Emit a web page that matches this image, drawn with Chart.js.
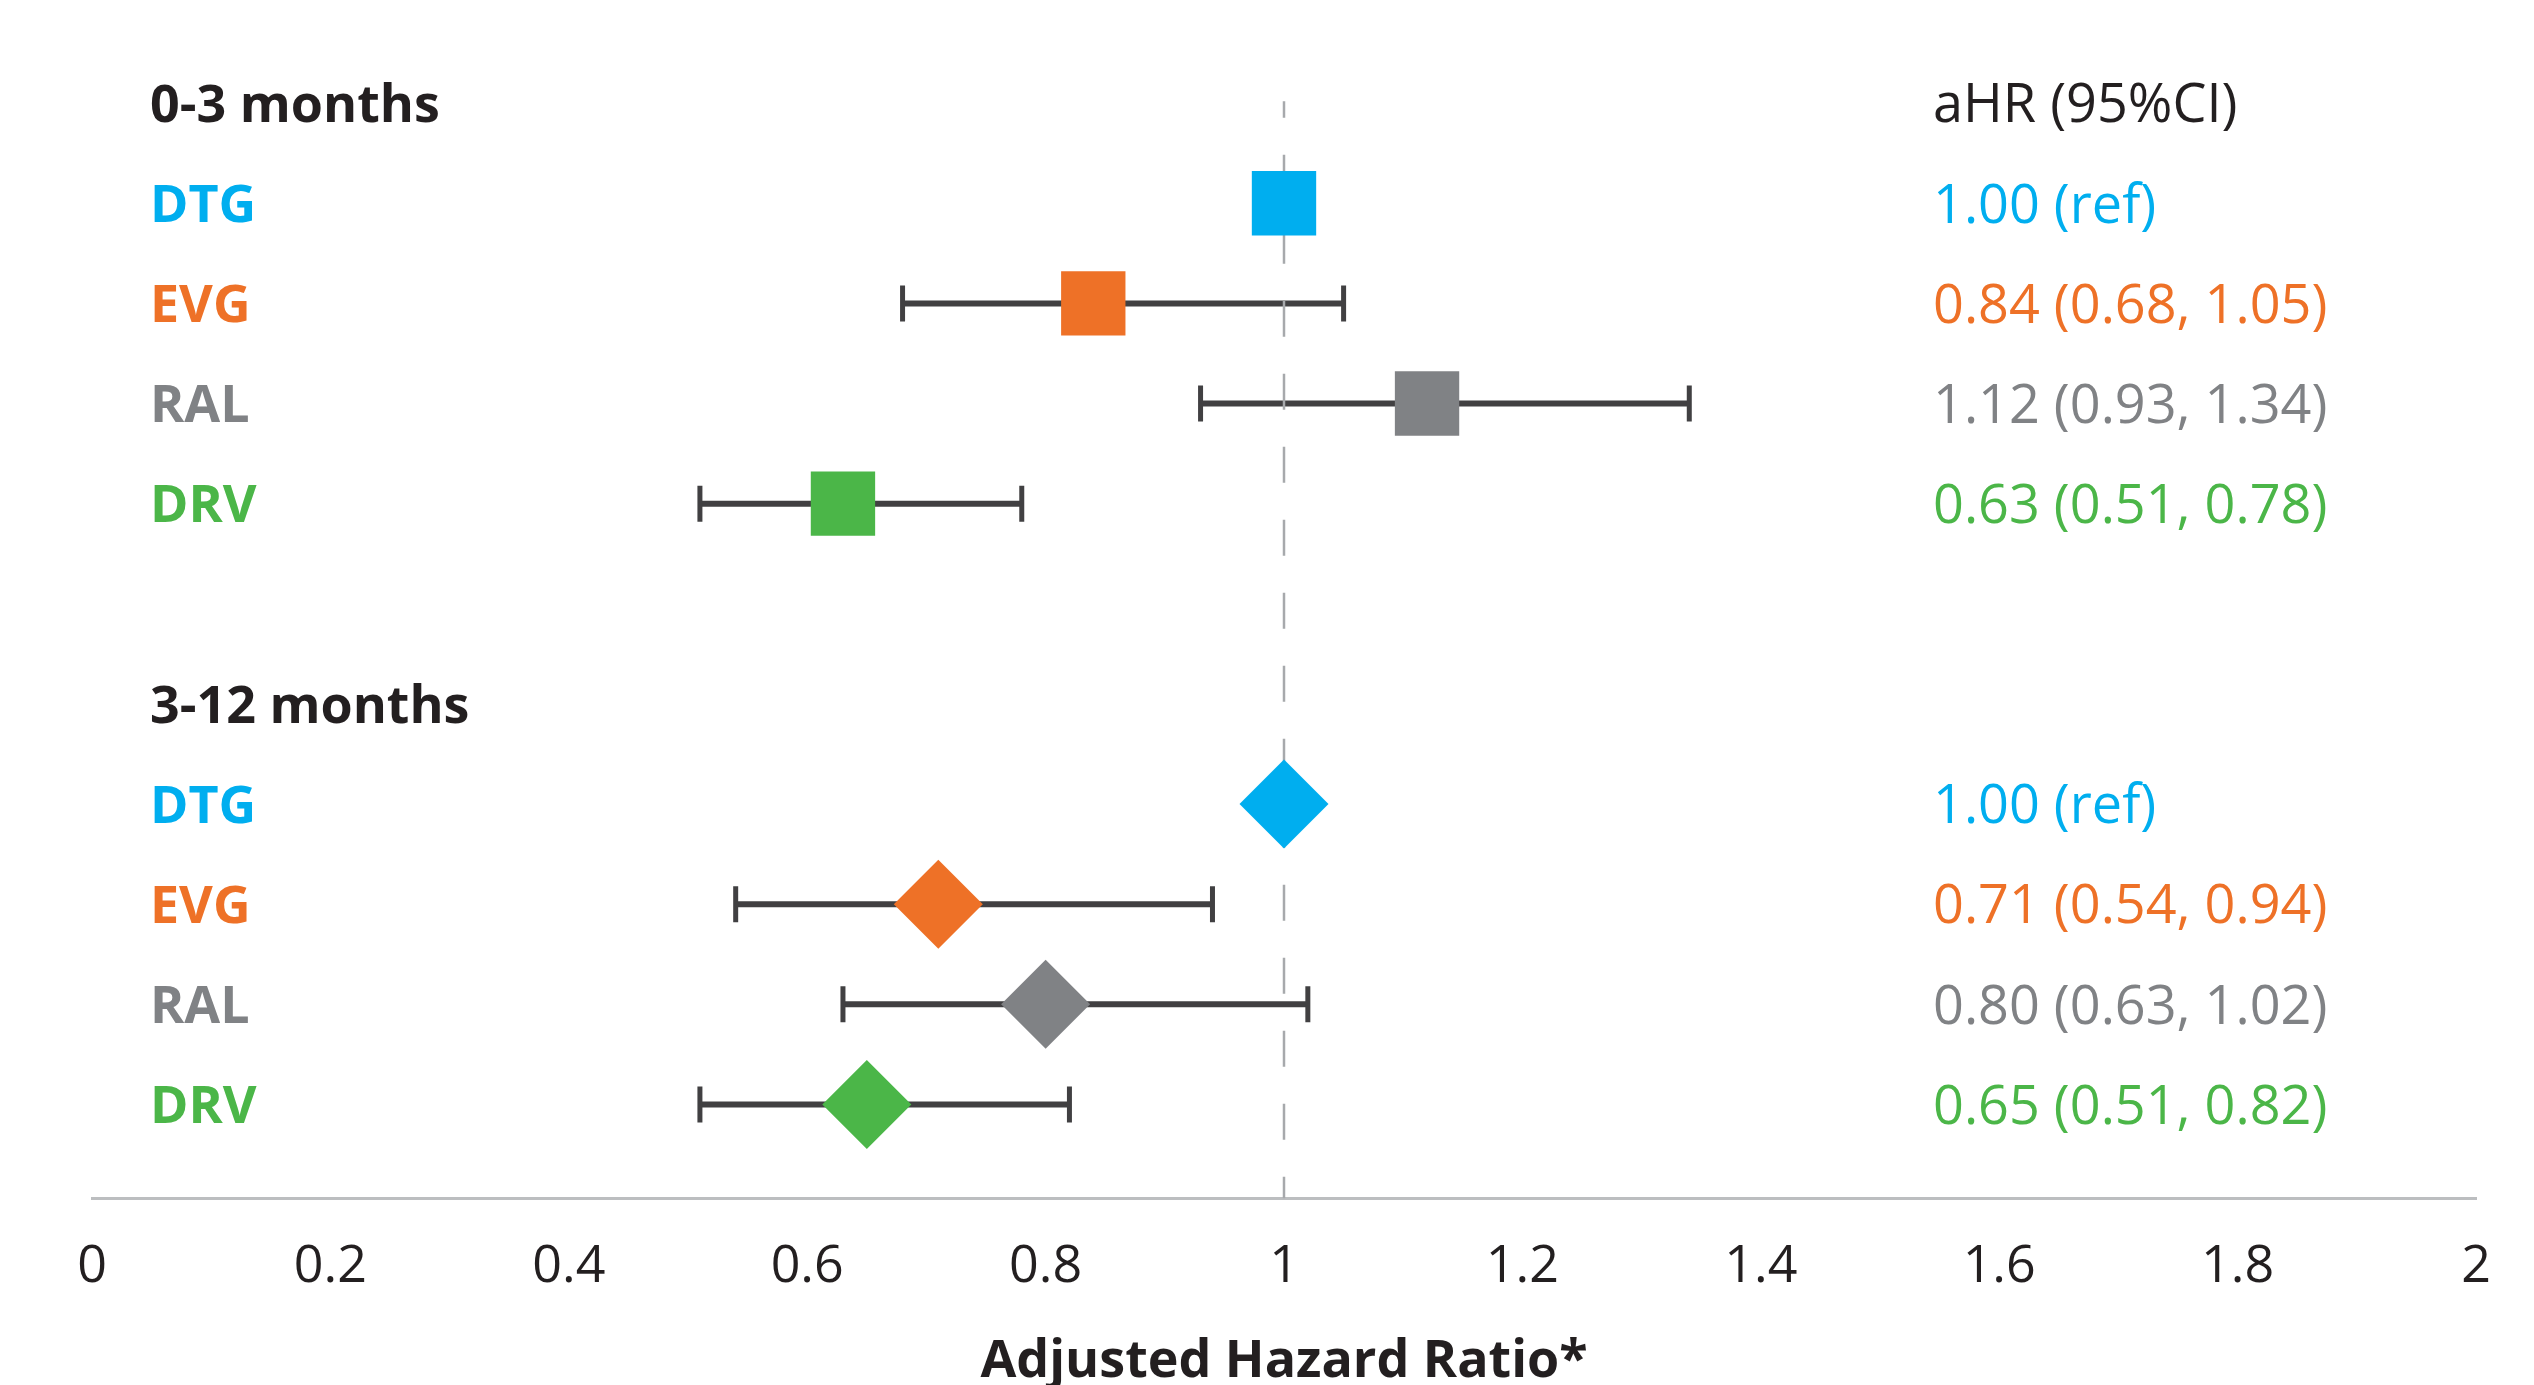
<!DOCTYPE html>
<html lang="en">
<head>
<meta charset="UTF-8">
<title>Adjusted Hazard Ratio</title>
<style>
  body { margin: 0; background: #fff; }
  .wrap { width: 2534px; height: 1385px; position: relative; }
</style>
<script src="https://cdn.jsdelivr.net/npm/chart.js"></script>
</head>
<body>
<div class="wrap"><canvas id="forest"></canvas></div>
<script>
const periods = ['0-3 months', '3-12 months'];
const drugs = ['DTG', 'EVG', 'RAL', 'DRV'];
const hrEarly = [1.00, 0.84, 1.12, 0.63];
const loEarly = [null, 0.68, 0.93, 0.51];
const hiEarly = [null, 1.05, 1.34, 0.78];
const hrLate = [1.00, 0.71, 0.80, 0.65];
const loLate = [null, 0.54, 0.63, 0.51];
const hiLate = [null, 0.94, 1.02, 0.82];
const xTicks = [0, 0.2, 0.4, 0.6, 0.8, 1, 1.2, 1.4, 1.6, 1.8, 2];
const refValue = 1;
const colHeader = 'aHR (95%CI)';
const axisTitle = 'Adjusted Hazard Ratio*';

const drugColors = ['#00aeef', '#ee7127', '#808285', '#4bb648'];
const ink = '#231f20';
const whiskerColor = '#414042';
const family = "'Open Sans', 'Noto Sans', sans-serif";

// header row of each period, drugs sit in the rows under it
const headerRows = [0, 6];
const yMin = -1.03, yMax = 10.94;

const groups = [
  { hr: hrEarly, lo: loEarly, hi: hiEarly, shape: 'rect', radius: 45.5 },
  { hr: hrLate, lo: loLate, hi: hiLate, shape: 'rectRot', radius: 44.5 }
];

const datasets = [];
groups.forEach((g, gi) => {
  const first = headerRows[gi] + 1;
  datasets.push({
    label: periods[gi],
    data: g.hr.map((v, i) => ({ x: v, y: first + i })),
    pointStyle: g.shape,
    pointRadius: g.radius,
    pointBackgroundColor: drugColors,
    pointBorderWidth: 0,
    order: 0
  });
  g.lo.forEach((lo, i) => {
    if (lo === null) return;
    datasets.push({
      label: periods[gi] + ' ' + drugs[i] + ' CI',
      data: [{ x: lo, y: first + i }, { x: g.hi[i], y: first + i }],
      showLine: true,
      borderColor: whiskerColor,
      borderWidth: 6,
      pointStyle: 'line',
      pointRotation: 90,
      pointRadius: 18,
      pointBorderWidth: 5,
      pointBorderColor: whiskerColor,
      order: 2
    });
  });
});

// dashed reference line at HR = 1
datasets.push({
  label: 'ref',
  data: [{ x: refValue, y: -0.02 }, { x: refValue, y: yMax }],
  showLine: true,
  borderColor: '#a7a9ac',
  borderWidth: 2.5,
  borderDash: [36, 37],
  borderDashOffset: 19.5,
  pointRadius: 0,
  order: 1
});

function fmt(v) { return v.toFixed(2); }

const rowText = {
  id: 'rowText',
  afterDatasetsDraw(chart) {
    const { ctx, scales: { y } } = chart;
    const leftX = 150, rightX = 1933;
    const baseline = (row, size) => y.getPixelForValue(row) + size * 0.357;
    ctx.save();
    ctx.textAlign = 'left';
    ctx.textBaseline = 'alphabetic';

    ctx.font = 'normal 54px ' + family;
    ctx.fillStyle = ink;
    ctx.fillText(colHeader, rightX, baseline(headerRows[0], 54));

    groups.forEach((g, gi) => {
      const h = headerRows[gi];
      ctx.font = 'bold 52px ' + family;
      ctx.fillStyle = ink;
      ctx.fillText(periods[gi], leftX, baseline(h, 52));
      drugs.forEach((d, i) => {
        const row = h + 1 + i;
        ctx.fillStyle = drugColors[i];
        ctx.font = 'bold 52px ' + family;
        ctx.fillText(d, leftX, baseline(row, 52));
        ctx.font = 'normal 54px ' + family;
        const txt = g.lo[i] === null
          ? fmt(g.hr[i]) + ' (ref)'
          : fmt(g.hr[i]) + ' (' + fmt(g.lo[i]) + ', ' + fmt(g.hi[i]) + ')';
        ctx.fillText(txt, rightX, baseline(row, 54));
      });
    });
    ctx.restore();
  }
};

new Chart(document.getElementById('forest'), {
  type: 'scatter',
  data: { datasets: datasets },
  options: {
    responsive: true,
    maintainAspectRatio: false,
    animation: false,
    events: [],
    layout: { autoPadding: false, padding: { left: 92, right: 58, top: 0, bottom: 0 } },
    plugins: {
      legend: { display: false },
      tooltip: { enabled: false }
    },
    scales: {
      x: {
        type: 'linear',
        min: 0,
        max: 2,
        afterBuildTicks: axis => { axis.ticks = xTicks.map(v => ({ value: v })); },
        grid: { display: false, drawTicks: false },
        border: { display: true, color: '#bcbec0', width: 3 },
        ticks: {
          color: ink,
          padding: 37,
          maxRotation: 0,
          autoSkip: false,
          font: { family: family, size: 52 },
          callback: v => String(v)
        },
        title: {
          display: true,
          text: axisTitle,
          color: ink,
          font: { family: family, size: 52, weight: 'bold', lineHeight: 1 },
          padding: { top: 1, bottom: -3 }
        }
      },
      y: {
        type: 'linear',
        reverse: true,
        min: yMin,
        max: yMax,
        display: false
      }
    }
  },
  plugins: [rowText]
});
</script>
</body>
</html>
